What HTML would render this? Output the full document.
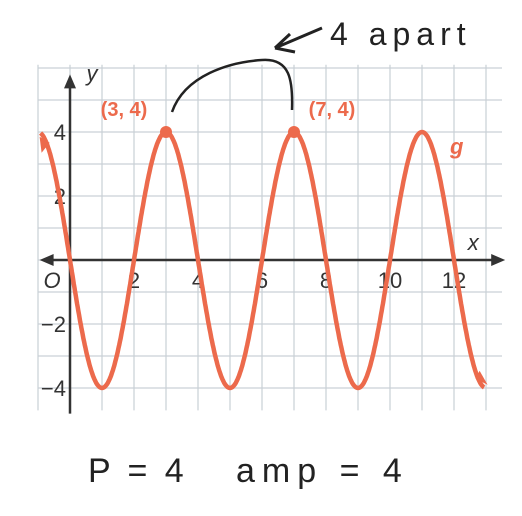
<!DOCTYPE html>
<html><head><meta charset="utf-8"><style>
body{margin:0;background:#fff;width:522px;height:516px;overflow:hidden}
svg{display:block}
text{font-family:"Liberation Sans",sans-serif}
</style></head><body>
<svg width="522" height="516">
<g id="grid"></g>
<g id="axes"></g>
<g id="ticks"></g>
<path id="curve" fill="none" stroke="#ec6a4c" stroke-width="4.5"/>
<g id="pts"></g>
<text x="450" y="154" fill="#ec6a4c" font-size="22" font-weight="bold" font-style="italic">g</text>
<path d="M172,112 C185,75 230,62 262,60 C290,58 293,80 292,110" fill="none" stroke="#222" stroke-width="2.5"/>
<path d="M322,28 L275,48 M275,48 L290,34 M275,48 L295,52" fill="none" stroke="#222" stroke-width="3"/>
<text x="330" y="45" font-size="32" fill="#222" letter-spacing="6" font-family="'DejaVu Sans',sans-serif">4 apart</text>
<text x="88" y="482" font-size="34" fill="#222" letter-spacing="4" font-family="'DejaVu Sans',sans-serif">P = 4</text>
<text x="236" y="482" font-size="34" fill="#222" letter-spacing="7" font-family="'DejaVu Sans',sans-serif">amp = 4</text>
</svg>
<script>
const xTicks=[2,4,6,8,10,12];
const yTicks=[4,2,-2,-4];
const amplitude=[4];
const period=[4];
const peaks=[[3,4],[7,4]];
const peakLabels=["(3, 4)","(7, 4)"];
const X0=70,Y0=260,U=32;
const sx=x=>X0+x*U, sy=y=>Y0-y*U;
const ns="http://www.w3.org/2000/svg";
function mk(p,t,a){const e=document.createElementNS(ns,t);for(const k in a)e.setAttribute(k,a[k]);p.appendChild(e);return e;}
const grid=document.getElementById('grid');
for(let i=-1;i<=13;i++){const l=mk(grid,'line',{x1:sx(i),x2:sx(i),y1:sy(6.1),y2:sy(-4.7),stroke:'#c9d0d6','stroke-width':1.2});

}
for(let j=-4;j<=6;j++){const l=mk(grid,'line',{x1:sx(-1),x2:sx(13.5),y1:sy(j),y2:sy(j),stroke:'#c9d0d6','stroke-width':1.2});

}
const ax=document.getElementById('axes');
mk(ax,'line',{x1:sx(-0.8),x2:sx(13.4),y1:Y0,y2:Y0,stroke:'#333','stroke-width':2.5});
mk(ax,'path',{d:`M${sx(13.6)},${Y0} l-14,-6 v12 z M${sx(-0.95)},${Y0} l14,-6 v12 z`,fill:'#333'});
mk(ax,'line',{x1:X0,x2:X0,y1:sy(5.6),y2:sy(-4.8),stroke:'#333','stroke-width':2.5});
mk(ax,'path',{d:`M${X0},${sy(5.8)} l-6,14 h12 z`,fill:'#333'});
const tk=document.getElementById('ticks');
function lab(x,y,s,anchor,extra){const t=mk(tk,'text',Object.assign({x,y,'font-size':22,fill:'#333','text-anchor':anchor},extra||{}));t.textContent=s;

return t;}
xTicks.forEach(v=>lab(sx(v),Y0+28,v,'middle'));
yTicks.forEach(v=>lab(X0-4,sy(v)+8,v<0?'\u2212'+(-v):v,'end'));
lab(X0-18,Y0+28,'O','middle',{'font-style':'italic'});
lab(sx(12.6),Y0-10,'x','middle',{'font-style':'italic','font-size':22});
lab(X0+22,sy(5.6),'y','middle',{'font-style':'italic','font-size':22});
let d='';
for(let x=-0.92;x<=12.95;x+=0.02){const y=-amplitude[0]*Math.sin(2*Math.PI*x/period[0]);d+=(d?'L':'M')+sx(x).toFixed(1)+','+sy(y).toFixed(1);}
document.getElementById('curve').setAttribute('d',d);
const pts=document.getElementById('pts');
mk(pts,'path',{d:`M${sx(-0.95)},${sy(3.85)} l2,16 l8,-10 z`,fill:'#ec6a4c'});
mk(pts,'path',{d:`M${sx(13.05)},${sy(-3.9)} l-12,-6 l4,-8 z`,fill:'#ec6a4c'});
peaks.forEach((p,i)=>{const c=mk(pts,'circle',{cx:sx(p[0]),cy:sy(p[1]),r:6,fill:'#ec6a4c'});


const t=mk(pts,'text',{x:sx(p[0])+(i?38:-42),y:sy(p[1])-16,'font-size':20,'font-weight':'bold',fill:'#ec6a4c','text-anchor':'middle'});t.textContent=peakLabels[i];

});
</script>
</body></html>
